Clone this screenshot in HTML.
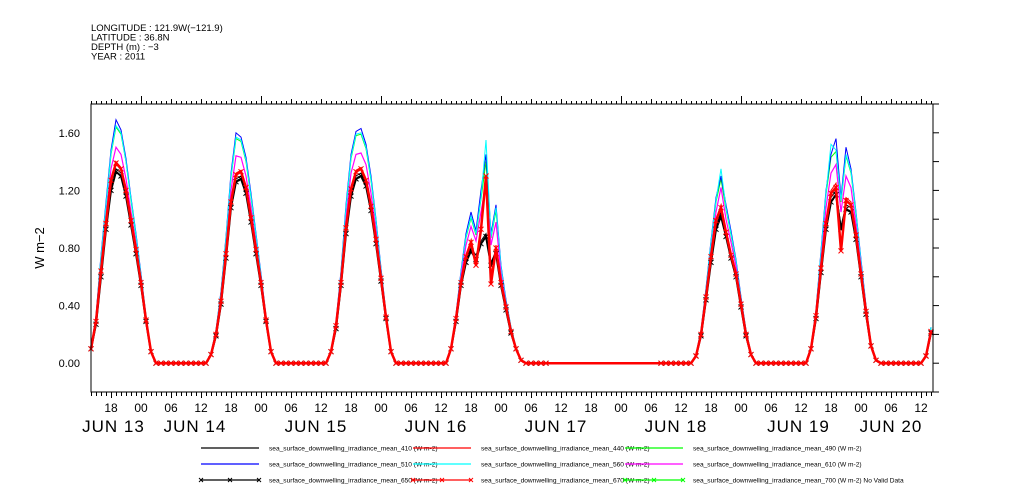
<!DOCTYPE html>
<html><head><meta charset="utf-8"><style>
body{margin:0;background:#fff;}
svg{display:block;font-family:"Liberation Sans",sans-serif;}
</style></head><body>
<svg id="chart" width="1009" height="504" xmlns="http://www.w3.org/2000/svg">
<g font-size="9.5" fill="#000">
<text x="91" y="31">LONGITUDE : 121.9W(−121.9)</text>
<text x="91" y="40.5">LATITUDE : 36.8N</text>
<text x="91" y="50">DEPTH (m) : −3</text>
<text x="91" y="59.5">YEAR : 2011</text>
</g>
<text x="44" y="248" font-size="13" text-anchor="middle" transform="rotate(-90 44 248)">W m−2</text>
<g id="axes"></g>
<g id="series"></g>
<rect x="91" y="104" width="842" height="288" fill="none" stroke="#000" stroke-width="1"/>
<g id="legend"></g>
</svg>
<script>
// hourly samples: index i => hour 14+i since JUN 13 00:00 (null = no data)
const startHour = 14;
const s410 = [.10,.28,.62,.95,1.22,1.35,1.32,1.18,.98,.78,.55,.30,.08,0, 0,0,0,0,0,0,0,0,0,
0,.06,.20,.42,.75,1.10,1.28,1.30,1.20,1.0,.78,.55,.30,.08,0, 0,0,0,0,0,0,0,0,0,
0,.08,.25,.55,.92,1.18,1.30,1.32,1.25,1.08,.85,.58,.32,.08,0, 0,0,0,0,0,0,0,0,0,
0,.10,.30,.55,.72,.80,.75,.85,.90,.70,.78,.55,.38,.22,.10,.02,0,0,0,0,0,
null,null,null,null,null,null,null,null,null,null,null,null,null,null,null,null,null,null,null,null,null,null,
0,0,0,0,0,0, 0,.05,.20,.45,.72,.95,1.05,.90,.75,.62,.40,.20,.06,0,0, 0,0,0,0,0,0,0,0,
0,.10,.32,.65,.95,1.15,1.20,.95,1.10,1.08,.88,.62,.35,.12,.02,0, 0,0,0,0,0,0,0,0, .05,.22];
const s510 = [.11,.33,.75,1.12,1.48,1.69,1.62,1.42,1.15,.90,.62,.33,.09,0, 0,0,0,0,0,0,0,0,0,
0,.07,.23,.50,.88,1.32,1.60,1.57,1.43,1.18,.90,.62,.33,.09,0, 0,0,0,0,0,0,0,0,0,
0,.09,.29,.64,1.10,1.45,1.61,1.63,1.52,1.30,1.0,.66,.35,.09,0, 0,0,0,0,0,0,0,0,0,
0,.11,.34,.64,.90,1.05,.92,1.20,1.45,.90,1.10,.68,.44,.25,.11,.02,0,0,0,0,0,
null,null,null,null,null,null,null,null,null,null,null,null,null,null,null,null,null,null,null,null,null,null,
0,0,0,0,0,0, 0,.06,.23,.52,.85,1.15,1.30,1.10,.92,.72,.46,.23,.07,0,0, 0,0,0,0,0,0,0,0,
0,.12,.37,.78,1.20,1.45,1.56,1.15,1.50,1.35,1.05,.72,.40,.14,.02,0, 0,0,0,0,0,0,0,0, .06,.25];
const s560 = [.11,.32,.74,1.10,1.46,1.65,1.60,1.40,1.14,.89,.61,.33,.09,0, 0,0,0,0,0,0,0,0,0,
0,.07,.23,.49,.87,1.30,1.57,1.55,1.41,1.16,.89,.61,.32,.09,0, 0,0,0,0,0,0,0,0,0,
0,.09,.28,.63,1.08,1.43,1.59,1.60,1.50,1.28,.99,.65,.35,.09,0, 0,0,0,0,0,0,0,0,0,
0,.11,.33,.63,.88,1.02,.90,1.15,1.55,.88,1.08,.67,.43,.25,.11,.02,0,0,0,0,0,
null,null,null,null,null,null,null,null,null,null,null,null,null,null,null,null,null,null,null,null,null,null,
0,0,0,0,0,0, 0,.06,.23,.51,.84,1.13,1.35,1.08,.90,.71,.45,.23,.07,0,0, 0,0,0,0,0,0,0,0,
0,.12,.36,.77,1.18,1.52,1.48,1.13,1.45,1.33,1.04,.71,.39,.14,.02,0, 0,0,0,0,0,0,0,0, .06,.25];
const s490 = [.11,.32,.73,1.09,1.45,1.64,1.59,1.40,1.13,.88,.61,.32,.09,0, 0,0,0,0,0,0,0,0,0,
0,.07,.22,.49,.86,1.29,1.56,1.54,1.40,1.15,.88,.60,.32,.09,0, 0,0,0,0,0,0,0,0,0,
0,.09,.28,.62,1.07,1.42,1.58,1.59,1.49,1.27,.98,.64,.34,.09,0, 0,0,0,0,0,0,0,0,0,
0,.11,.33,.62,.87,1.01,.89,1.14,1.40,.87,1.06,.66,.43,.24,.11,.02,0,0,0,0,0,
null,null,null,null,null,null,null,null,null,null,null,null,null,null,null,null,null,null,null,null,null,null,
0,0,0,0,0,0, 0,.06,.22,.50,.83,1.12,1.28,1.07,.89,.70,.45,.22,.07,0,0, 0,0,0,0,0,0,0,0,
0,.12,.36,.76,1.17,1.43,1.47,1.12,1.44,1.32,1.03,.70,.39,.14,.02,0, 0,0,0,0,0,0,0,0, .06,.24];
const s610 = [.10,.30,.68,1.02,1.35,1.50,1.45,1.28,1.05,.83,.58,.31,.08,0, 0,0,0,0,0,0,0,0,0,
0,.06,.21,.46,.80,1.20,1.44,1.43,1.30,1.08,.83,.58,.31,.08,0, 0,0,0,0,0,0,0,0,0,
0,.08,.27,.59,1.0,1.32,1.45,1.46,1.38,1.18,.92,.62,.33,.08,0, 0,0,0,0,0,0,0,0,0,
0,.10,.32,.60,.82,.95,.85,1.05,1.25,.82,.98,.62,.41,.23,.10,.02,0,0,0,0,0,
null,null,null,null,null,null,null,null,null,null,null,null,null,null,null,null,null,null,null,null,null,null,
0,0,0,0,0,0, 0,.05,.21,.48,.78,1.05,1.22,1.00,.84,.67,.43,.21,.06,0,0, 0,0,0,0,0,0,0,0,
0,.11,.35,.71,1.08,1.32,1.38,1.05,1.30,1.22,.96,.67,.37,.13,.02,0, 0,0,0,0,0,0,0,0, .05,.23];
const s440 = [.10,.29,.65,.98,1.28,1.40,1.36,1.21,1.0,.80,.56,.30,.08,0, 0,0,0,0,0,0,0,0,0,
0,.06,.20,.43,.77,1.13,1.32,1.34,1.23,1.02,.80,.56,.30,.08,0, 0,0,0,0,0,0,0,0,0,
0,.08,.26,.57,.95,1.22,1.34,1.36,1.28,1.10,.87,.59,.32,.08,0, 0,0,0,0,0,0,0,0,0,
0,.10,.31,.57,.75,.85,.70,.95,1.25,.60,.82,.56,.39,.22,.10,.02,0,0,0,0,0,
null,null,null,null,null,null,null,null,null,null,null,null,null,null,null,null,null,null,null,null,null,null,
0,0,0,0,0,0, 0,.05,.20,.46,.75,1.00,1.10,.92,.76,.63,.41,.20,.06,0,0, 0,0,0,0,0,0,0,0,
0,.10,.33,.67,.98,1.20,1.25,.80,1.15,1.12,.90,.63,.36,.12,.02,0, 0,0,0,0,0,0,0,0, .05,.22];
const s650 = [.10,.27,.60,.93,1.20,1.33,1.30,1.16,.96,.76,.54,.29,.08,0, 0,0,0,0,0,0,0,0,0,
0,.06,.19,.41,.73,1.08,1.26,1.28,1.18,.98,.76,.54,.29,.08,0, 0,0,0,0,0,0,0,0,0,
0,.08,.24,.54,.90,1.16,1.28,1.30,1.23,1.06,.83,.57,.31,.08,0, 0,0,0,0,0,0,0,0,0,
0,.10,.29,.54,.70,.78,.72,.83,.88,.68,.76,.54,.37,.21,.10,.02,0,0,0,0,0,
null,null,null,null,null,null,null,null,null,null,null,null,null,null,null,null,null,null,null,null,null,null,
0,0,0,0,0,0, 0,.05,.19,.44,.70,.93,1.02,.88,.73,.60,.39,.19,.06,0,0, 0,0,0,0,0,0,0,0,
0,.10,.31,.63,.93,1.12,1.17,.93,1.07,1.05,.86,.60,.34,.12,.02,0, 0,0,0,0,0,0,0,0, .05,.21];
const s670 = [.10,.29,.64,.97,1.27,1.39,1.35,1.20,.99,.79,.56,.30,.08,0, 0,0,0,0,0,0,0,0,0,
0,.06,.20,.43,.76,1.12,1.31,1.33,1.22,1.01,.79,.56,.30,.08,0, 0,0,0,0,0,0,0,0,0,
0,.08,.26,.56,.94,1.21,1.33,1.35,1.27,1.09,.86,.59,.32,.08,0, 0,0,0,0,0,0,0,0,0,
0,.10,.31,.56,.74,.84,.68,.93,1.30,.55,.80,.56,.39,.22,.10,.02,0,0,0,0,0,
null,null,null,null,null,null,null,null,null,null,null,null,null,null,null,null,null,null,null,null,null,null,
0,0,0,0,0,0, 0,.05,.20,.46,.74,.99,1.08,.91,.75,.62,.41,.20,.06,0,0, 0,0,0,0,0,0,0,0,
0,.10,.33,.66,.97,1.18,1.22,.78,1.13,1.10,.89,.62,.36,.12,.02,0, 0,0,0,0,0,0,0,0, .05,.22];
const yTicks = [0, 0.4, 0.8, 1.2, 1.6];
const yTickLabels = ["0.00", "0.40", "0.80", "1.20", "1.60"];
const hourTickHours = [18,24,30,36,42,48,54,60,66,72,78,84,90,96,102,108,114,120,126,132,138,144,150,156,162,168,174,180];
const hourTickLabels = ["18","00","06","12","18","00","06","12","18","00","06","12","18","00","06","12","18","00","06","12","18","00","06","12","18","00","06","12"];
const dateLabels = ["JUN 13","JUN 14","JUN 15","JUN 16","JUN 17","JUN 18","JUN 19","JUN 20"];
const dateLabelHours = [18.5,34.8,59,83,107,131,155.5,174];

const X0=91, X1=933, Y0=104, Y1=392;
const hMin=14, hMax=182.4, vMin=-0.2, vMax=1.8;
function xs(h){return X0+(h-hMin)/(hMax-hMin)*(X1-X0);}
function ys(v){return Y1-(v-vMin)/(vMax-vMin)*(Y1-Y0);}
const NS="http://www.w3.org/2000/svg";
function mk(tag,parent){const e=document.createElementNS(NS,tag);parent.appendChild(e);return e;}

const axes=document.getElementById('axes');
yTicks.forEach((v,i)=>{
  const t=mk('text',axes);
  
  
  t.setAttribute('x',80);t.setAttribute('y',ys(v)+4);t.setAttribute('font-size','11');t.setAttribute('text-anchor','end');
  t.textContent=yTickLabels[i];
});
for(let v=-0.2; v<=1.81; v+=0.2){
  const l=mk('line',axes);
  
  
  l.setAttribute('x1',X1);l.setAttribute('x2',X1+6);l.setAttribute('y1',ys(v));l.setAttribute('y2',ys(v));l.setAttribute('stroke','#000');
}
for(let h=14; h<=182; h++){
  const major = h%24===0 ? 8 : (h%6===0 ? 5 : 3);
  const x=Math.round(xs(h))+0.5;
  const lt=mk('line',axes);
  
  
  lt.setAttribute('x1',x);lt.setAttribute('x2',x);lt.setAttribute('y1',Y0);lt.setAttribute('y2',Y0-major);lt.setAttribute('stroke','#000');
  const lb=mk('line',axes);
  
  
  lb.setAttribute('x1',x);lb.setAttribute('x2',x);lb.setAttribute('y1',Y1);lb.setAttribute('y2',Y1+(h%6===0?6:4));lb.setAttribute('stroke','#000');
}
hourTickHours.forEach((h,i)=>{
  const t=mk('text',axes);
  
  
  t.setAttribute('x',xs(h));t.setAttribute('y',412);t.setAttribute('font-size','12');t.setAttribute('text-anchor','middle');
  t.textContent=hourTickLabels[i];
});
dateLabels.forEach((d,i)=>{
  const t=mk('text',axes);
  
  
  t.setAttribute('x',xs(dateLabelHours[i]));t.setAttribute('y',432);t.setAttribute('font-size','17');t.setAttribute('letter-spacing','1');t.setAttribute('text-anchor','middle');
  t.textContent=d;
});

const seriesDefs=[
  {name:'series-490',vals:s490,color:'#00ff00',w:1,mark:false},
  {name:'series-510',vals:s510,color:'#0000ff',w:1,mark:false},
  {name:'series-560',vals:s560,color:'#00ffff',w:1,mark:false},
  {name:'series-610',vals:s610,color:'#ff00ff',w:1.2,mark:false},
  {name:'series-410',vals:s410,color:'#000000',w:1,mark:false},
  {name:'series-650',vals:s650,color:'#000000',w:2,mark:true},
  {name:'series-440',vals:s440,color:'#ff0000',w:1,mark:false},
  {name:'series-670',vals:s670,color:'#ff0000',w:2.5,mark:true}
];
const sg=document.getElementById('series');
seriesDefs.forEach(s=>{
  const g=mk('g',sg);
  
  
  const pts=[];
  s.vals.forEach((v,i)=>{ if(v!==null) pts.push([xs(startHour+i),ys(v)]); });
  const p=mk('polyline',g);
  
  
  p.setAttribute('points',pts.map(q=>q[0].toFixed(1)+','+q[1].toFixed(1)).join(' '));
  p.setAttribute('fill','none');p.setAttribute('stroke',s.color);p.setAttribute('stroke-width',s.w);
  if(s.mark){
    pts.forEach(q=>{
      const m=mk('path',g);
      
      
      m.setAttribute('d',`M${q[0]-2.5},${q[1]-2.5}L${q[0]+2.5},${q[1]+2.5}M${q[0]-2.5},${q[1]+2.5}L${q[0]+2.5},${q[1]-2.5}`);
      m.setAttribute('stroke',s.color);m.setAttribute('stroke-width','1');
    });
  }
});

const legendEntries=[
  ['410','#000',false,201,448],['440','#f00',false,413,448],['490','#0f0',false,625,448],
  ['510','#00f',false,201,464],['560','#0ff',false,413,464],['610','#f0f',false,625,464],
  ['650','#000',true,201,480],['670','#f00',true,413,480],['700','#0f0',true,625,480]
];
const lg=document.getElementById('legend');
legendEntries.forEach(e=>{
  const g=mk('g',lg);
  
  
  const l=mk('line',g);
  
  
  l.setAttribute('x1',e[3]);l.setAttribute('x2',e[3]+58);l.setAttribute('y1',e[4]);l.setAttribute('y2',e[4]);l.setAttribute('stroke',e[1]);l.setAttribute('stroke-width','1.2');
  if(e[2]){[0,29,58].forEach(dx=>{
    const m=mk('path',g);
    
    
    const cx=e[3]+dx, cy=e[4];
    m.setAttribute('d',`M${cx-2},${cy-2}L${cx+2},${cy+2}M${cx-2},${cy+2}L${cx+2},${cy-2}`);m.setAttribute('stroke',e[1]);
  });}
  const t=mk('text',g);
  
  
  t.setAttribute('x',e[3]+68);t.setAttribute('y',e[4]+2.5);t.setAttribute('font-size','6.6');
  t.textContent='sea_surface_downwelling_irradiance_mean_'+e[0]+' (W m-2)'+(e[0]==='700'?' No Valid Data':'');
});
</script>
</body></html>
